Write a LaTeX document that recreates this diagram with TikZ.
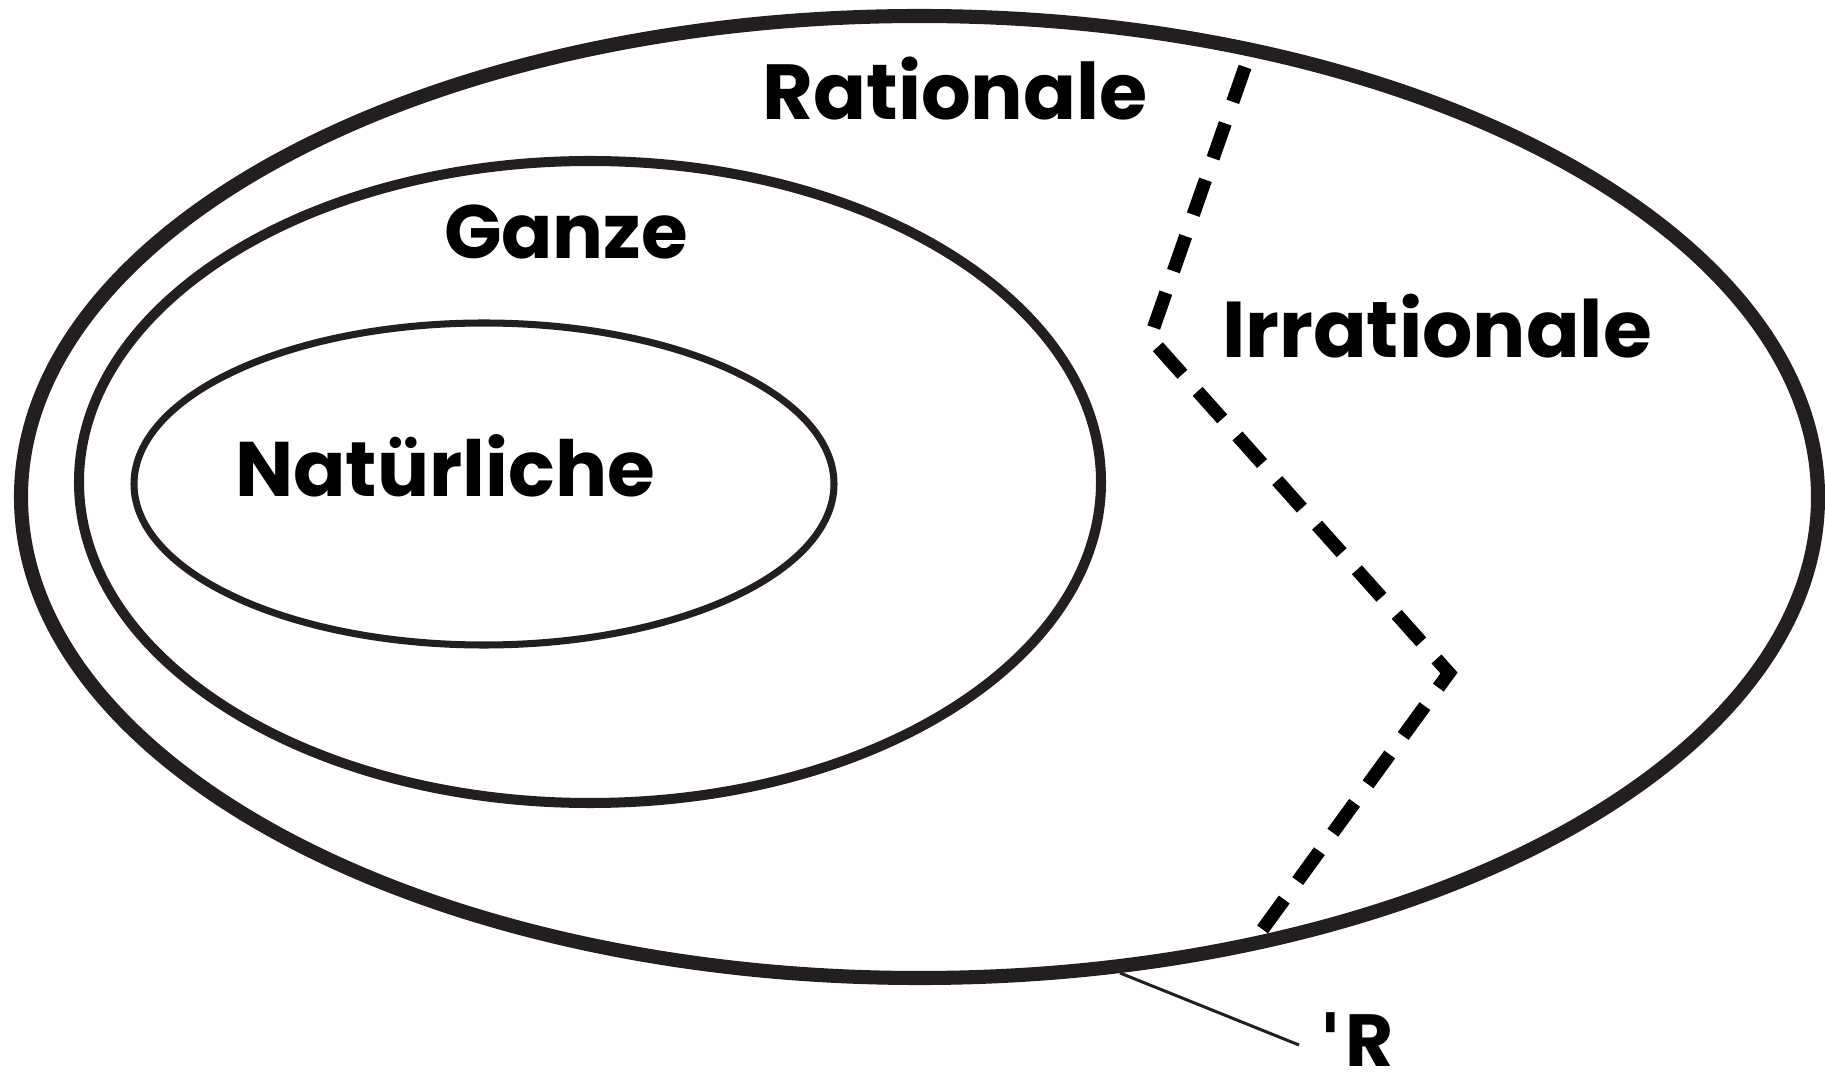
\documentclass[tikz,border=0pt]{standalone}
\usepackage{fontspec}
\setmainfont{Poppins}[Ligatures=NoCommon]
\newfontfamily\quotefont{DejaVu Sans}
\definecolor{ink}{HTML}{231F20}
\begin{document}
\begin{tikzpicture}[x=0.01cm,y=-0.01cm,
  setline/.style={draw=ink},
  lbl/.style={font=\bfseries, text=black, inner sep=0pt},
  divider/.style={draw=black, line width=3.8pt, dash pattern=on 10.5pt off 6.5pt},
]
\useasboundingbox (0,0) rectangle (1825,1092);
% ellipses
\draw[setline, line width=4pt] (919.5,497) ellipse [x radius=898.5, y radius=481];
\draw[setline, line width=2.85pt] (590,482) ellipse [x radius=511, y radius=321];
\draw[setline, line width=2pt] (484,484) ellipse [x radius=350, y radius=161];
% dashed boundary
\coordinate (d1) at (1245,67);
\coordinate (d2) at (1150,338);
\coordinate (d3) at (1449,673);
\coordinate (d4) at (1257,937);
\draw[divider] (d1) -- (d2) -- (d3) -- (d4);
% labels
\node[lbl, font=\fontsize{22.2}{26}\selectfont\bfseries, anchor=base] (rat) at (955,120) {Rationale};
\node[lbl, font=\fontsize{21.5}{24}\selectfont\bfseries, anchor=base] (ganze) at (566,259) {Ganze};
\node[lbl, font=\fontsize{22}{26}\selectfont\bfseries, anchor=base] (nat) at (445,497) {Natürliche};
\node[lbl, font=\fontsize{22.5}{26}\selectfont\bfseries, anchor=base] (irr) at (1437,358) {Irrationale};
\node[lbl, font=\fontsize{21}{24}\selectfont\bfseries, anchor=base west] (R) at (1319,1066) {{\quotefont\char"0027}\kern1pt R};
% pointer
\coordinate (rp) at (1120,973);
\coordinate (rq) at (1299,1045);
\draw[draw=ink, line width=0.85pt] (rp) -- (rq);
\end{tikzpicture}
\end{document}
